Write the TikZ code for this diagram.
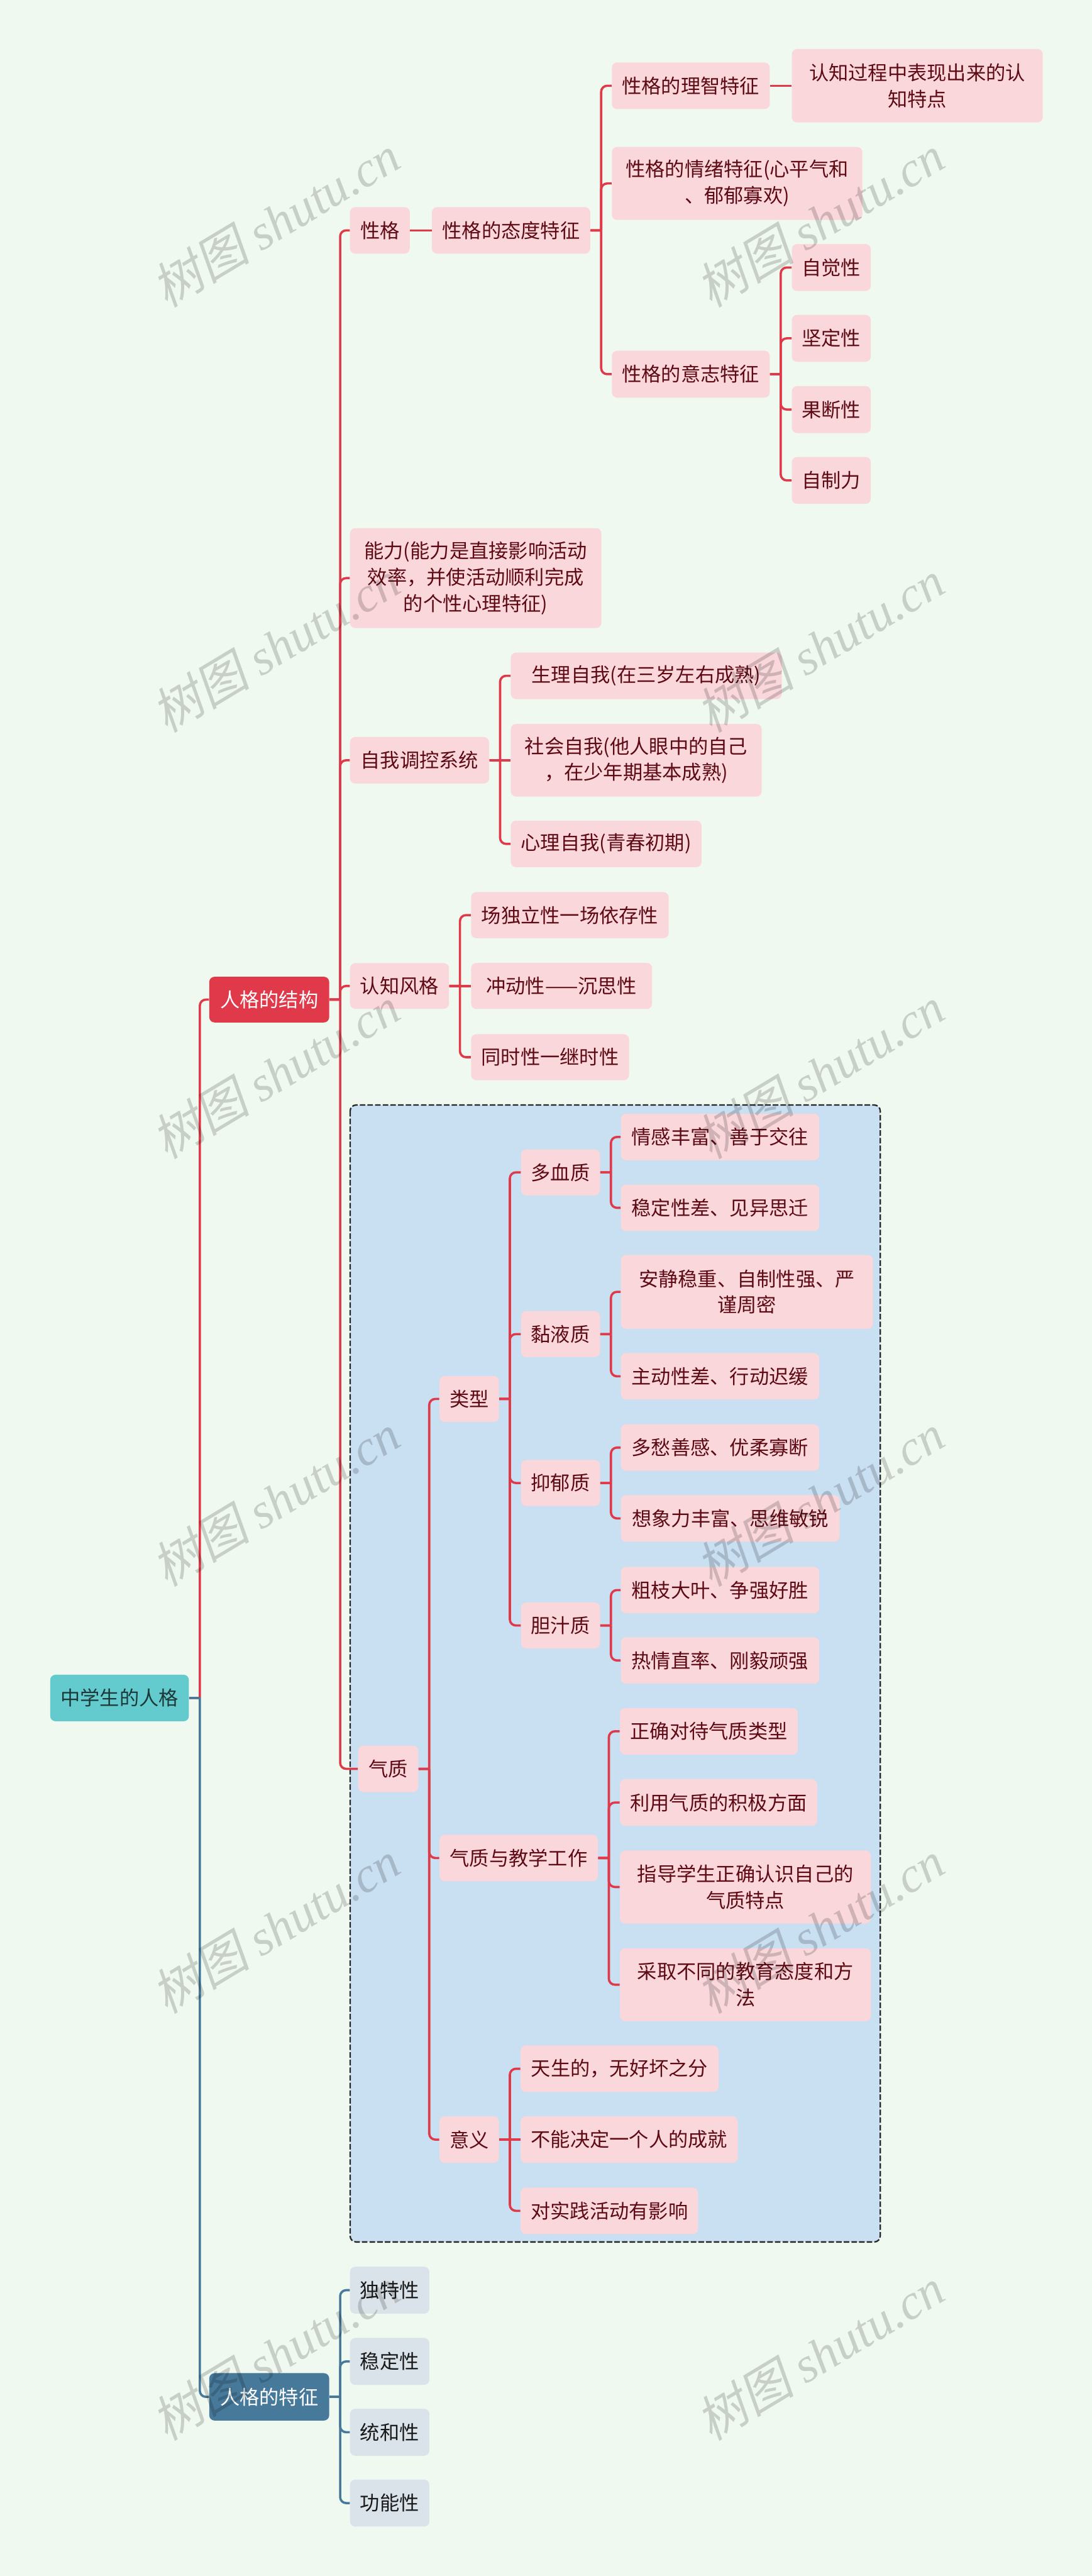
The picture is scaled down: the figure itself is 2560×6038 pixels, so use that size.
\documentclass[tikz,border=0pt]{standalone}
\usepackage{fontspec}
\setmainfont{Noto Sans CJK SC}
\newfontfamily\wmcjk[FakeSlant=0.2]{Noto Sans CJK SC}
\newfontfamily\wmlat{Liberation Serif}
\definecolor{bg}{HTML}{F0F9EF}
\definecolor{redln}{HTML}{E03A4A}
\definecolor{blueln}{HTML}{46799A}
\definecolor{pinkfill}{HTML}{FAD7DB}
\definecolor{pinktext}{HTML}{5E0A14}
\definecolor{rootfill}{HTML}{63CBCE}
\definecolor{roottext}{HTML}{1D3838}
\definecolor{greyfill}{HTML}{DAE3EA}
\definecolor{boxfill}{HTML}{C9DFF2}
% parent-to-child connector: stub, bus, rounded turn into child
\newcommand\branch[3][link]{\draw[#1] (#2.east) -- ++(25,0) (#2.east) ++(25,0) |- (#3.west);}
% straight connector for a child level with its parent
\newcommand\stem[2]{\draw[link] (#1.east) -- (#2.west);}

\begin{document}
\begin{tikzpicture}[x=0.01cm, y=-0.01cm,
	base/.style={anchor=west, rounded corners=3.5pt, align=center, inner sep=0pt, minimum height=1.09cm, font=\fontsize{13.1}{17.6}\selectfont},
	pk/.style={base, fill=pinkfill, text=pinktext},
	gy/.style={base, fill=greyfill, text=black!90},
	link/.style={redln, line width=1.5pt, rounded corners=4pt},
	blink/.style={link, blueln},
	wm/.style={rotate=31, text=black, text opacity=0.17, font=\fontsize{33}{33}\selectfont}]
	\fill[bg] (0,0) rectangle (2560,6038);
	\useasboundingbox (0,0) rectangle (2560,6038);
	% dashed frame round the temperament branch
	\draw[fill=boxfill, draw=black!85, line width=0.95pt, dash pattern=on 3.7pt off 1.4pt, rounded corners=4pt] (821,2590) rectangle (2064,5255);

	\node[base, fill=rootfill, text=roottext, minimum width=3.25cm] (root) at (117,3980) {中学生的人格};
	\node[base, fill=redln, text=white, minimum width=2.81cm, minimum height=1.07cm] (jiegou) at (490,2343) {人格的结构};
	\node[base, fill=blueln, text=white, minimum width=2.81cm, minimum height=1.11cm] (tezheng) at (490,5618) {人格的特征};

	% structure
	\node[pk, minimum width=1.40cm] (xingge) at (820,540) {性格};
	\node[pk, minimum width=5.89cm, minimum height=2.34cm] (nengli) at (820,1355) {能力(能力是直接影响活动\\效率，并使活动顺利完成\\的个性心理特征)};
	\node[pk, minimum width=3.26cm] (ziwo) at (820,1782) {自我调控系统};
	\node[pk, minimum width=2.32cm, minimum height=1.07cm] (renzhi) at (820,2311) {认知风格};
	\node[pk, minimum width=1.41cm] (qizhi) at (839,4146) {气质};

	\node[pk, minimum width=3.71cm] (taidu) at (1012,540) {性格的态度特征};
	\node[pk, minimum width=3.70cm] (lizhi) at (1434,201) {性格的理智特征};
	\node[pk, minimum width=5.88cm, minimum height=1.72cm] (lizhidian) at (1856,201) {认知过程中表现出来的认\\知特点};
	\node[pk, minimum width=5.87cm, minimum height=1.71cm] (qingxu) at (1434,430) {性格的情绪特征(心平气和\\、郁郁寡欢)};
	\node[pk, minimum width=3.70cm, minimum height=1.10cm] (yizhi) at (1434,877) {性格的意志特征};
	\node[pk, minimum width=1.85cm, minimum height=1.10cm] (zijue) at (1856,627) {自觉性};
	\node[pk, minimum width=1.85cm, minimum height=1.10cm] (jianding) at (1856,793) {坚定性};
	\node[pk, minimum width=1.85cm, minimum height=1.10cm] (guoduan) at (1856,960) {果断性};
	\node[pk, minimum width=1.85cm, minimum height=1.10cm] (zizhi) at (1856,1126) {自制力};

	\node[pk, minimum width=6.35cm] (shengli) at (1197,1584) {生理自我(在三岁左右成熟)};
	\node[pk, minimum width=5.88cm, minimum height=1.70cm] (shehui) at (1197,1782) {社会自我(他人眼中的自己\\，在少年期基本成熟)};
	\node[pk, minimum width=4.47cm] (xinli) at (1197,1978) {心理自我(青春初期)};

	\node[pk, minimum width=4.63cm, minimum height=1.08cm] (chang) at (1104,2145) {场独立性一场依存性};
	\node[pk, minimum width=4.24cm, minimum height=1.08cm] (chongdong) at (1104,2311) {冲动性——沉思性};
	\node[pk, minimum width=3.70cm, minimum height=1.08cm] (tongshi) at (1104,2478) {同时性一继时性};

	% temperament
	\node[pk, minimum width=1.39cm, minimum height=1.08cm] (leixing) at (1030,3279) {类型};
	\node[pk, minimum width=3.71cm] (jiaoxue) at (1030,4355) {气质与教学工作};
	\node[pk, minimum width=1.39cm] (yiyi) at (1030,5015) {意义};

	\node[pk, minimum width=1.85cm, minimum height=1.08cm] (duoxue) at (1221,2748) {多血质};
	\node[pk, minimum width=1.85cm, minimum height=1.08cm] (nianye) at (1221,3127) {黏液质};
	\node[pk, minimum width=1.85cm, minimum height=1.08cm] (yiyu) at (1221,3476) {抑郁质};
	\node[pk, minimum width=1.85cm, minimum height=1.08cm] (danzhi) at (1221,3810) {胆汁质};

	\node[pk, minimum width=4.65cm] (dx1) at (1455,2665) {情感丰富、善于交往};
	\node[pk, minimum width=4.65cm] (dx2) at (1455,2831) {稳定性差、见异思迁};
	\node[pk, minimum width=5.91cm, minimum height=1.73cm] (ny1) at (1455,3028) {安静稳重、自制性强、严\\谨周密};
	\node[pk, minimum width=4.65cm] (ny2) at (1455,3226) {主动性差、行动迟缓};
	\node[pk, minimum width=4.65cm] (yy1) at (1455,3393) {多愁善感、优柔寡断};
	\node[pk, minimum width=5.13cm] (yy2) at (1455,3559) {想象力丰富、思维敏锐};
	\node[pk, minimum width=4.65cm] (dz1) at (1455,3727) {粗枝大叶、争强好胜};
	\node[pk, minimum width=4.65cm] (dz2) at (1455,3892) {热情直率、刚毅顽强};

	\node[pk, minimum width=4.17cm] (jx1) at (1453,4058) {正确对待气质类型};
	\node[pk, minimum width=4.62cm] (jx2) at (1453,4225) {利用气质的积极方面};
	\node[pk, minimum width=5.88cm, minimum height=1.71cm] (jx3) at (1453,4423) {指导学生正确认识自己的\\气质特点};
	\node[pk, minimum width=5.88cm, minimum height=1.71cm] (jx4) at (1453,4652) {采取不同的教育态度和方\\法};

	\node[pk, minimum width=4.64cm] (yy-a) at (1220,4849) {天生的，无好坏之分};
	\node[pk, minimum width=5.09cm] (yy-b) at (1220,5015) {不能决定一个人的成就};
	\node[pk, minimum width=4.16cm] (yy-c) at (1220,5182) {对实践活动有影响};

	% features
	\node[gy, minimum width=1.86cm, minimum height=1.10cm] (dute) at (820,5368) {独特性};
	\node[gy, minimum width=1.86cm, minimum height=1.10cm] (wending) at (820,5535) {稳定性};
	\node[gy, minimum width=1.86cm, minimum height=1.10cm] (tonghe) at (820,5701) {统和性};
	\node[gy, minimum width=1.86cm, minimum height=1.10cm] (gongneng) at (820,5867) {功能性};

	\branch{root}{jiegou}
	\branch[blink]{root}{tezheng}
	\foreach \c in {xingge, nengli, ziwo, renzhi, qizhi} {\branch{jiegou}{\c}}
	\stem{xingge}{taidu}
	\foreach \c in {lizhi, qingxu, yizhi} {\branch{taidu}{\c}}
	\stem{lizhi}{lizhidian}
	\foreach \c in {zijue, jianding, guoduan, zizhi} {\branch{yizhi}{\c}}
	\foreach \c in {shengli, xinli} {\branch{ziwo}{\c}}
	\stem{ziwo}{shehui}
	\foreach \c in {chang, tongshi} {\branch{renzhi}{\c}}
	\stem{renzhi}{chongdong}
	\foreach \c in {leixing, jiaoxue, yiyi} {\branch{qizhi}{\c}}
	\foreach \c in {duoxue, nianye, yiyu, danzhi} {\branch{leixing}{\c}}
	\foreach \p/\a/\b in {duoxue/dx1/dx2, nianye/ny1/ny2, yiyu/yy1/yy2, danzhi/dz1/dz2} {\branch{\p}{\a} \branch{\p}{\b}}
	\foreach \c in {jx1, jx2, jx3, jx4} {\branch{jiaoxue}{\c}}
	\foreach \c in {yy-a, yy-c} {\branch{yiyi}{\c}}
	\stem{yiyi}{yy-b}
	\foreach \c in {dute, wending, tonghe, gongneng} {\branch[blink]{tezheng}{\c}}

	% watermark
	\foreach \wy [count=\i] in {518,1515,2515,3516,4517,5518}
		\foreach \wx [count=\j] in {646,1923}
			\node[wm] (wm\i\j) at (\wx,\wy) {{\wmcjk 树图} {\wmlat\itshape shutu.cn}};
\end{tikzpicture}
\end{document}
